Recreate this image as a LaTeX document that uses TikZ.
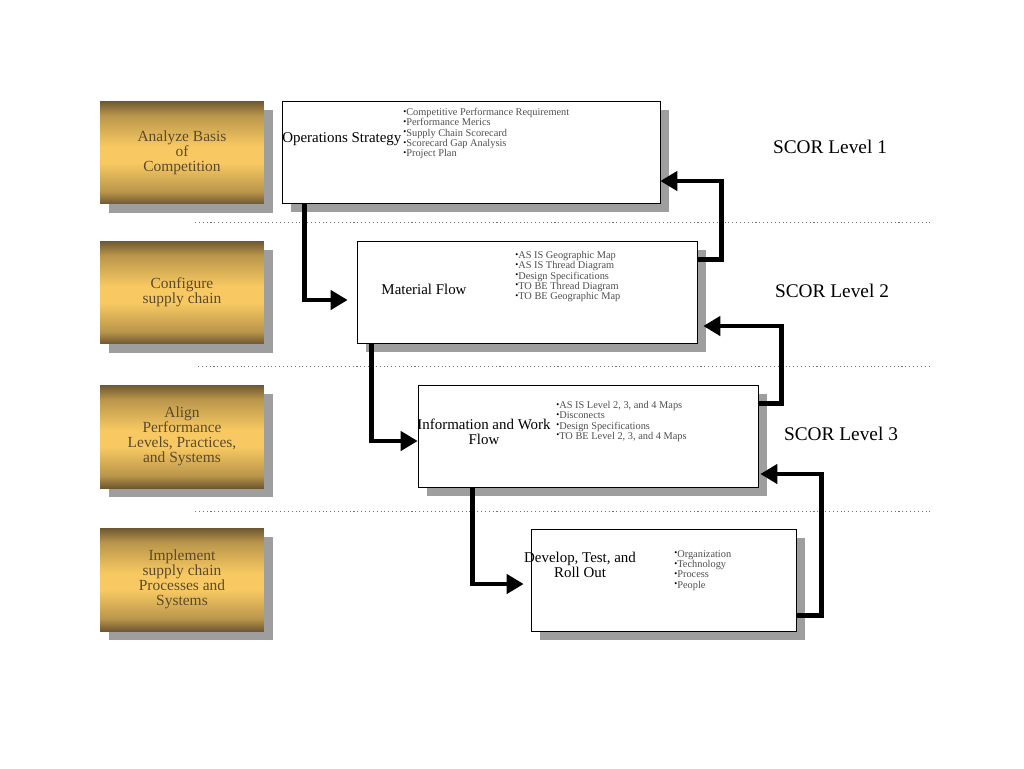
\documentclass[tikz,border=0pt]{standalone}
\usepackage{fontspec}
\setmainfont{Liberation Serif}
\usetikzlibrary{
    arrows.meta,
    positioning,
    shadows,
    calc
}
\definecolor{golddark}{HTML}{6E5830}
\definecolor{goldlight}{HTML}{F8C962}
\definecolor{goldtext}{HTML}{5A4A2E}
\definecolor{itemgray}{HTML}{505050}
\colorlet{goldmid}{golddark!45!goldlight}
\pgfdeclareverticalshading{goldbar}{100bp}{color(0bp)=(golddark); color(25bp)=(golddark);
    color(31bp)=(goldmid); color(45bp)=(goldlight); color(53bp)=(goldlight);
    color(68bp)=(goldmid); color(75bp)=(golddark); color(100bp)=(golddark)}
\newcommand\bul{{\color{black}\raisebox{.3ex}{\fontsize{4.8}{4.8}\selectfont\textbullet}}}

\begin{document}
\begin{tikzpicture}[x=0.02cm, y=-0.02cm, >={Triangle[length=0.34cm, width=0.38cm]},
    gold-box/.style={rectangle, minimum width=3.28cm, minimum height=2.06cm,
        shading=goldbar, text=goldtext, align=center, font=\fontsize{8.8}{8.6}\selectfont,
        general shadow={fill=black!38, shadow xshift=0.18cm, shadow yshift=-0.18cm}},
    step-box/.style={rectangle, draw=black, fill=white, minimum height=2.04cm,
        general shadow={fill=black!38, shadow xshift=0.18cm, shadow yshift=-0.18cm}},
    title-text/.style={align=center, inner sep=0, font=\fontsize{8.5}{8.6}\selectfont},
    item-text/.style={align=left, inner sep=0, anchor=north west, text=itemgray,
        font=\fontsize{5.9}{5.85}\selectfont},
    level-text/.style={font=\fontsize{11}{12}\selectfont},
    flow/.style={->, line width=0.09cm, line join=miter}]
    \useasboundingbox (0,0) rectangle (1024,768);

    % separators
    \foreach \y/\xa/\xb in {222/195/930, 366/198/932, 511/195/930}
        \draw[black!55, line width=0.5pt, dash pattern=on 0.6pt off 1.6pt] (\xa,\y) -- (\xb,\y);

    % left column
    \node[gold-box] (basis) at (182,152.5) {Analyze Basis\\ of\\ Competition};
    \node[gold-box] (config) at (182,292.5) {Configure\\ supply chain};
    \node[gold-box] (align) at (182,436.5) {Align\\ Performance\\ Levels, Practices,\\ and Systems};
    \node[gold-box] (impl) at (182,579.5) {Implement\\ supply chain\\ Processes and\\ Systems};

    % steps
    \node[step-box, minimum width=7.56cm] (ops) at (471,152) {};
    \node[step-box, minimum width=6.8cm] (mat) at (527,292) {};
    \node[step-box, minimum width=6.8cm] (info) at (588,436) {};
    \node[step-box, minimum width=5.3cm] (dev) at (663.5,580) {};

    \node[title-text, anchor=west] (ops-title) at (282,139) {Operations Strategy};
    \node[title-text] (mat-title) at (424,289) {Material Flow};
    \node[title-text] (info-title) at (484,432) {Information and Work\\ Flow};
    \node[title-text] (dev-title) at (580,565) {Develop, Test, and\\ Roll Out};

    \node[item-text] (ops-items) at (403,108) {\bul Competitive Performance Requirement\\ \bul Performance Merics\\ \bul Supply Chain Scorecard\\ \bul Scorecard Gap Analysis\\ \bul Project Plan};
    \node[item-text] (mat-items) at (515,251) {\bul AS IS Geographic Map\\ \bul AS IS Thread Diagram\\ \bul Design Specifications\\ \bul TO BE Thread Diagram\\ \bul TO BE Geographic Map};
    \node[item-text] (info-items) at (556,401) {\bul AS IS Level 2, 3, and 4 Maps\\ \bul Disconects\\ \bul Design Specifications\\ \bul TO BE Level 2, 3, and 4 Maps};
    \node[item-text] (dev-items) at (674,550) {\bul Organization\\ \bul Technology\\ \bul Process\\ \bul People};

    % levels
    \node[level-text] (level1) at (830,147) {SCOR Level 1};
    \node[level-text] (level2) at (832,291) {SCOR Level 2};
    \node[level-text] (level3) at (841,434) {SCOR Level 3};

    % forward arrows
    \draw[flow] ($(ops.south west)+(23,0)$) |- ($(mat.west)+(-9,8)$);
    \draw[flow] ($(mat.south west)+(15,0)$) |- ($(info.west)+(0,5)$);
    \draw[flow] ($(info.south west)+(55,0)$) |- ($(dev.west)+(-7,4)$);

    % feedback arrows
    \draw[flow] ($(mat.north east)+(0,19)$) -- ++(24,0) |- ($(ops.east)+(0,29)$);
    \draw[flow] ($(info.north east)+(0,19)$) -- ++(23,0) |- ($(mat.east)+(6,34)$);
    \draw[flow] ($(dev.south east)+(0,-16)$) -- ++(25,0) |- ($(info.east)+(2,38)$);
\end{tikzpicture}
\end{document}
